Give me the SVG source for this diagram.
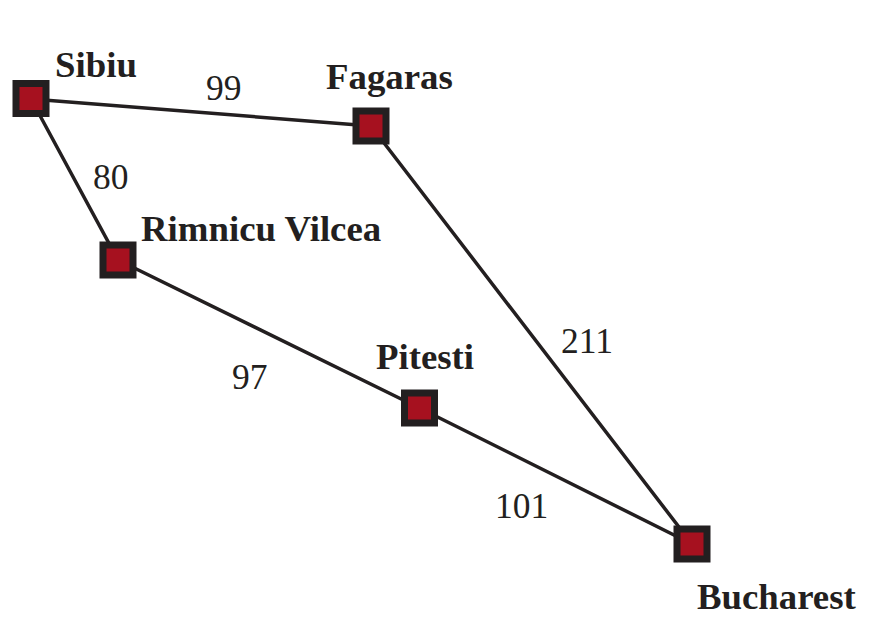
<svg xmlns="http://www.w3.org/2000/svg" width="873" height="625" viewBox="0 0 873 625">
<style>
.edge{stroke:#231f20;stroke-width:3.5;fill:none;stroke-linecap:round}
.node rect{fill:#a6111f;stroke:#231f20;stroke-width:7}
.name{font-family:"Liberation Serif",serif;font-weight:bold;font-size:36.8px;fill:#231f20}
.cost{font-family:"Liberation Serif",serif;font-size:35.5px;fill:#231f20}
</style>
<rect width="873" height="625" fill="#ffffff"/>
<g id="connectors">
<line class="edge" x1="31" y1="99" x2="371" y2="126"/>
<line class="edge" x1="31" y1="99" x2="118" y2="260"/>
<line class="edge" x1="118" y1="260" x2="419.5" y2="408"/>
<line class="edge" x1="419.5" y1="408" x2="692" y2="544"/>
<line class="edge" x1="371" y1="126" x2="692" y2="544"/>
<text class="cost" x="206" y="100">99</text>
<text class="cost" x="93" y="189">80</text>
<text class="cost" x="232" y="389">97</text>
<text class="cost" x="561" y="353">211</text>
<text class="cost" x="495" y="518">101</text>
</g>
<g id="sibiu" class="node">
<rect x="16" y="83.5" width="30" height="30"/>
<text class="name" x="55" y="77">Sibiu</text>
</g>
<g id="fagaras" class="node">
<rect x="356" y="111" width="30" height="30"/>
<text class="name" x="326" y="89">Fagaras</text>
</g>
<g id="rimnicu-vilcea" class="node">
<rect x="103" y="245" width="30" height="30"/>
<text class="name" x="141" y="241">Rimnicu Vilcea</text>
</g>
<g id="pitesti" class="node">
<rect x="404.5" y="393" width="30" height="30"/>
<text class="name" x="376" y="369">Pitesti</text>
</g>
<g id="bucharest" class="node">
<rect x="677" y="529" width="30" height="30"/>
<text class="name" x="697" y="609">Bucharest</text>
</g>
</svg>
